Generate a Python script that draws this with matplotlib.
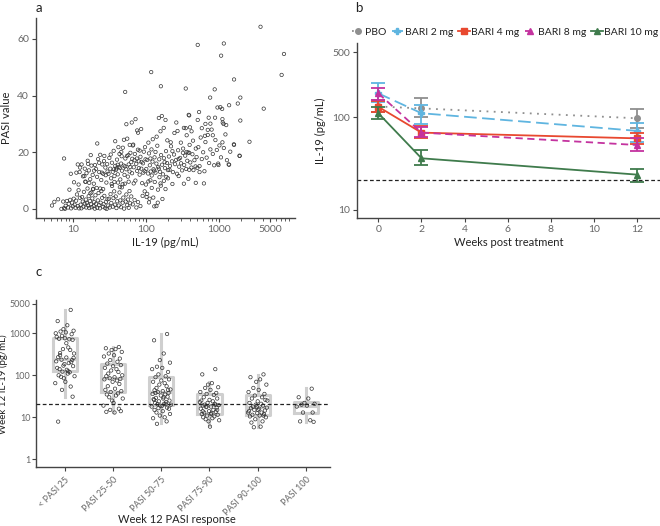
import numpy as np
import matplotlib.pyplot as plt
from matplotlib.ticker import FixedLocator, NullLocator, NullFormatter

plt.rcParams['font.family'] = ['Lato', 'DejaVu Sans']

# ---------------- panel a: IL-19 vs PASI ----------------
pts_a = [
    # low IL-19, low PASI
    (5.2, 1.2), (5.6, 2.5), (6.3, 3.4), (7.0, 0.0), (7.4, 2.6), (7.6, 0.3), (7.8, 0.0), (8.0, 1.1),
    (8.3, 2.8), (8.6, 0.5), (8.8, 1.8), (9.0, 6.8), (9.2, 3.2), (9.5, 0.2), (9.8, 2.2), (10.0, 0.9),
    (10.3, 3.6), (10.6, 1.5), (10.9, 0.4), (11.1, 2.9), (11.4, 5.1), (11.7, 1.0), (12.0, 6.6), (12.2, 0.2),
    (12.5, 3.9), (7.6, 17.8), (9.4, 12.4), (11.2, 12.8), (12.0, 8.6), (11.7, 15.7), (12.6, 14.6), (10.4, 9.4),
    (12.8, 1.5), (13.1, 0.2), (13.4, 4.2), (13.7, 2.6), (14.0, 0.8), (14.2, 6.0), (14.5, 1.9), (14.8, 9.6),
    (15.1, 3.3), (15.3, 0.5), (15.6, 2.1), (15.9, 7.2), (16.2, 1.2), (16.5, 4.5), (16.8, 0.3), (17.1, 2.8),
    (17.4, 5.5), (17.8, 1.6), (18.1, 0.6), (18.5, 3.7), (18.9, 6.9), (19.3, 1.0), (19.6, 2.4), (20.0, 0.1),
    (20.4, 4.8), (20.8, 1.8), (21.2, 7.4), (21.6, 0.4), (22.0, 3.0), (22.5, 5.6), (23.0, 1.3), (23.5, 0.2),
    (24.0, 2.2), (24.6, 6.3), (25.2, 3.9), (25.8, 0.8), (26.4, 1.7), (27.0, 4.6), (27.7, 0.3), (28.4, 2.5),
    (29.0, 0.0), (29.8, 3.4), (15.0, 9.6), (16.8, 9.2), (19.0, 7.1), (23.7, 7.2), (26.0, 7.0), (18.0, 5.8),
    # low IL-19, mid PASI
    (12.4, 13.0), (13.2, 15.7), (13.8, 11.5), (14.6, 14.2), (15.4, 12.6), (16.0, 17.0), (16.6, 13.6),
    (17.3, 10.5), (18.0, 15.3), (18.7, 12.0), (19.4, 8.9), (20.1, 15.5), (20.8, 14.1), (21.5, 11.3),
    (22.2, 17.6), (23.0, 13.0), (23.7, 19.1), (24.5, 10.2), (25.3, 15.7), (26.1, 12.4), (27.0, 18.7),
    (27.9, 14.6), (28.8, 9.3), (29.8, 13.2), (21.6, 23.1), (14.4, 11.6), (16.2, 15.9), (19.6, 13.5),
    (22.9, 16.3), (25.0, 12.8), (26.7, 16.9), (28.2, 11.9), (29.5, 15.8), (17.6, 19.0),
    # 30-100, low PASI
    (30.5, 1.2), (31.2, 3.6), (32.0, 0.5), (32.8, 5.2), (33.6, 2.1), (34.4, 8.1), (35.2, 0.8), (36.0, 3.8),
    (36.8, 6.2), (37.7, 1.5), (38.6, 4.4), (39.5, 0.3), (40.5, 2.7), (41.5, 9.3), (42.5, 1.2), (43.5, 5.8),
    (44.6, 3.0), (45.7, 0.6), (46.8, 7.6), (48.0, 2.2), (49.1, 4.0), (50.3, 0.1), (51.5, 8.9), (52.8, 2.6),
    (54.0, 5.1), (55.4, 1.3), (56.8, 3.3), (58.2, 0.4), (59.6, 6.3), (61.0, 2.0), (37.0, 9.5), (44.0, 7.7),
    (63.0, 4.4), (66.0, 1.6), (70.0, 3.1), (74.0, 0.5), (78.0, 2.4), (84.0, 1.0), (90.0, 4.6), (96.0, 6.2),
    # 30-100, mid PASI
    (30.8, 12.4), (31.6, 18.0), (32.5, 14.2), (33.4, 10.8), (34.3, 16.3), (35.2, 13.1), (36.2, 20.5),
    (37.1, 11.6), (38.1, 15.2), (39.1, 13.8), (40.2, 17.4), (41.2, 12.2), (42.3, 14.8), (43.5, 19.4),
    (44.6, 10.4), (45.8, 16.0), (47.0, 13.5), (48.3, 21.6), (49.6, 15.3), (50.9, 12.0), (52.3, 17.8),
    (53.7, 14.0), (55.1, 18.7), (56.6, 11.4), (58.1, 15.7), (59.7, 13.2), (61.3, 19.8), (62.9, 16.5),
    (64.6, 12.6), (66.3, 22.4), (68.1, 14.7), (69.9, 17.2), (71.8, 10.0), (73.7, 15.9), (75.7, 13.4),
    (77.7, 20.9), (79.8, 16.8), (81.9, 12.1), (84.1, 18.4), (86.4, 14.2), (88.7, 9.1), (91.1, 16.1),
    (93.5, 20.2), (96.0, 13.3), (98.6, 17.5), (36.5, 14.0), (39.5, 14.3), (41.0, 15.6), (44.0, 14.5),
    (46.5, 18.6), (52.0, 15.0), (57.5, 19.0), (61.0, 14.8), (65.0, 17.7), (70.5, 19.4), (75.0, 17.8),
    (80.0, 14.4), (87.0, 16.6), (92.0, 12.8), (38.0, 23.9), (42.0, 21.8), (50.0, 24.4), (55.5, 24.8),
    (60.0, 22.6), (67.0, 22.7), (75.8, 27.7), (78.0, 26.9), (64.0, 30.5), (54.0, 29.9), (72.0, 31.7),
    (86.0, 28.2), (46.0, 20.1), (82.0, 20.6), (33.0, 19.2), (97.0, 21.8), (34.0, 8.8), (48.0, 8.7),
    (58.0, 9.6), (68.0, 9.0), (52.0, 41.3),
    # 100-500, low PASI
    (100, 8.6), (104, 5.3), (110, 2.3), (115, 10.1), (120, 7.4), (126, 4.0), (132, 9.5), (139, 1.0),
    (146, 6.8), (153, 11.2), (160, 8.2), (168, 3.5), (176, 9.9), (185, 7.0), (145, 2.2), (200, 10.8),
    (112, 3.6), (130, 0.9), (108, 9.7), (158, 9.0), (230, 8.8), (280, 11.6), (330, 8.9), (380, 10.6),
    (120, 11.8), (190, 11.3), (102, 4.2),
    # 100-500, mid PASI
    (101, 14.1), (104, 17.3), (107, 12.5), (110, 19.6), (113, 15.4), (116, 13.2), (119, 21.0), (123, 16.7),
    (127, 14.0), (131, 18.2), (135, 12.8), (139, 16.0), (143, 22.3), (147, 14.8), (152, 17.5), (156, 13.1),
    (161, 19.0), (166, 15.6), (171, 12.2), (176, 17.9), (182, 14.4), (188, 20.4), (194, 16.2), (200, 13.7),
    (206, 18.5), (213, 15.2), (220, 22.1), (227, 16.8), (234, 13.0), (242, 19.2), (250, 15.8), (258, 17.3),
    (266, 12.4), (275, 20.7), (284, 14.9), (293, 18.0), (302, 16.1), (312, 13.6), (322, 21.3), (333, 15.5),
    (344, 18.8), (355, 14.1), (367, 17.0), (379, 19.9), (391, 13.8), (404, 16.4), (418, 14.6), (432, 19.3),
    (446, 13.7), (460, 17.2), (476, 15.0), (492, 18.3), (108, 23.4), (124, 24.6), (140, 25.5), (158, 27.4),
    (175, 28.6), (196, 24.2), (218, 23.5), (245, 26.8), (270, 27.5), (300, 23.4), (330, 28.6), (360, 26.0),
    (395, 22.6), (440, 24.1), (480, 21.3), (150, 32.1), (165, 32.8), (185, 31.4), (260, 30.5), (350, 28.5),
    (400, 28.8), (390, 33.0), (420, 27.4), (320, 19.8), (280, 17.6), (230, 20.4), (210, 13.8), (180, 16.5),
    (150, 14.2), (130, 13.5), (115, 17.8), (135, 20.1), (390, 19.8), (360, 20.1), (118, 48.3), (160, 43.3),
    (350, 42.5),
    # 500+
    (505, 14.5), (520, 21.8), (540, 15.1), (560, 25.2), (580, 17.6), (605, 20.0), (630, 13.3), (650, 23.6),
    (675, 18.1), (700, 26.1), (730, 16.2), (760, 21.0), (790, 28.0), (820, 19.4), (855, 15.4), (890, 24.3),
    (930, 20.8), (970, 16.0), (1010, 22.4), (1060, 18.2), (1110, 23.5), (1160, 21.5), (1220, 26.3),
    (1280, 17.2), (1350, 15.7), (1420, 20.2), (1600, 22.6), (1900, 18.8), (1250, 29.6), (700, 27.9),
    (760, 30.1), (820, 26.0), (880, 32.2), (580, 28.5), (640, 25.8), (540, 13.0), (620, 9.0), (480, 9.2),
    (650, 30.0), (720, 32.2), (980, 15.5), (2600, 23.7), (1150, 30.0), (950, 35.8), (510, 31.4),
    (3680, 64.3), (510, 57.9), (1160, 58.4), (1065, 54.1), (7700, 54.7), (7150, 47.3), (1600, 45.7),
    (4070, 35.4), (870, 42.2), (754, 39.3), (1950, 39.3), (1800, 37.2), (1370, 36.6), (1040, 35.9),
    (1100, 35.3), (532, 34.2), (384, 33.2), (1590, 22.8), (1910, 18.7), (1370, 15.6), (1950, 31.2),
    (1120, 30.5), (1110, 31.7),
]
il19_a = [p[0] for p in pts_a]
pasi_a = [p[1] for p in pts_a]

# ---------------- panel b: IL-19 over time ----------------
weeks = [0, 2, 12]
groups_b = ['PBO', 'BARI 2 mg', 'BARI 4 mg', 'BARI 8 mg', 'BARI 10 mg']
mean_b = {
    'PBO':        [130, 124, 97],
    'BARI 2 mg':  [180, 110, 71],
    'BARI 4 mg':  [129, 68, 59],
    'BARI 8 mg':  [180, 68, 50],
    'BARI 10 mg': [110, 36, 24],
}
low_b = {
    'PBO':        [112, 100, 77],
    'BARI 2 mg':  [146, 85, 54],
    'BARI 4 mg':  [112, 60, 51],
    'BARI 8 mg':  [152, 61, 43],
    'BARI 10 mg': [95, 30.5, 20],
}
high_b = {
    'PBO':        [152, 160, 122],
    'BARI 2 mg':  [230, 135, 87],
    'BARI 4 mg':  [150, 80, 68],
    'BARI 8 mg':  [208, 79, 59],
    'BARI 10 mg': [129, 44, 27.5],
}
colors_b = {'PBO': '#8f8f8f', 'BARI 2 mg': '#5fb5e0', 'BARI 4 mg': '#e8482f',
            'BARI 8 mg': '#c4339f', 'BARI 10 mg': '#3f7b4c'}
styles_b = {'PBO': (0, (1, 3)), 'BARI 2 mg': (0, (7, 3)), 'BARI 4 mg': '-',
            'BARI 8 mg': (0, (4, 2.5)), 'BARI 10 mg': '-'}
markers_b = {'PBO': 'o', 'BARI 2 mg': 'P', 'BARI 4 mg': 's', 'BARI 8 mg': '^', 'BARI 10 mg': '^'}
ref_level = 21

# ---------------- panel c: week 12 IL-19 by PASI response ----------------
cats_c = ['< PASI 25', 'PASI 25-50', 'PASI 50-75', 'PASI 75-90', 'PASI 90-100', 'PASI 100']
vals_c = [
    [3600, 1950, 1550, 1250, 1150, 1100, 1050, 1000, 950, 870, 720, 740, 700, 760, 820, 460, 420, 400,
     340, 330, 270, 265, 235, 230, 215, 195, 185, 205, 140, 135, 150, 165, 122, 118, 100, 110, 92, 95,
     85, 70, 65, 54, 45, 31, 7.9, 580, 300, 260, 170, 125],
    [470, 440, 420, 400, 360, 330, 300, 280, 250, 230, 210, 190, 175, 165, 150, 140, 130, 120, 110, 100,
     95, 90, 85, 82, 80, 75, 70, 62, 55, 48, 45, 42, 40, 37, 35, 33, 30, 28, 25, 22, 19, 16, 15, 14,
     13.5, 13],
    [960, 680, 330, 230, 200, 160, 150, 140, 120, 105, 95, 90, 80, 75, 70, 65, 60, 55, 50, 46, 44, 42,
     40, 38, 36, 35, 33, 31, 29, 28, 27, 25, 24, 23, 22, 21, 20.5, 20, 19, 18.5, 18, 17, 16.5, 16, 15,
     14, 13, 12, 11, 10, 9.5, 8, 7, 45, 38, 30, 26, 21],
    [140, 105, 65, 60, 52, 50, 45, 40, 38, 36, 34, 30, 28, 26, 25, 24, 22, 21, 20, 19.5, 19, 18, 17.5,
     17, 16, 15, 14, 13.5, 13, 12.5, 12, 11.5, 11, 10.5, 10, 9.5, 9, 8.5, 8, 6, 23, 20, 18, 15, 14, 12],
    [105, 90, 80, 70, 60, 50, 45, 40, 36, 33, 30, 28, 26, 24, 22, 21, 20, 19, 18, 17, 16.5, 16, 15,
     14.5, 14, 13, 12.5, 12, 11.5, 11, 10.5, 10, 9, 8, 7.5, 6, 5.8, 25, 18, 15, 13, 11],
    [48, 30, 28, 22, 21, 20, 19, 18, 13, 13, 8.5, 8, 7.8],
]
jitter_c = [0.12, -0.15, 0.05, -0.03, 0.18, -0.09, 0.02, -0.19, 0.14, -0.06, 0.09, -0.12, 0.16, 0.0,
            -0.17, 0.07, -0.04, 0.11, -0.1, 0.19, -0.14, 0.03, -0.07, 0.15, -0.18, 0.08, -0.01, 0.13,
            -0.11, 0.04, -0.16, 0.17, -0.05, 0.1, -0.13, 0.06, -0.08, 0.2, -0.02, 0.01, -0.2, 0.12,
            -0.06, 0.16, -0.14, 0.03, -0.1, 0.18, -0.03, 0.07, -0.17, 0.11, -0.09, 0.14, -0.12, 0.05,
            -0.15, 0.09, 0.0, -0.04]
q1_c = [126, 39, 19.6, 12, 11.3, 12.9]
med_c = [240, 88, 40, 19.6, 17.9, 18.6]
q3_c = [785, 182, 93, 36, 34, 23.5]
whislo_c = [30, 13.6, 7.2, 6.5, 6, 7.9]
whishi_c = [3600, 464, 960, 70, 100, 49]

axis_col = '#444444'
tick_col = '#666666'
label_col = '#222222'


def style_axis(ax, size=7.5):
    for s in ['top', 'right']:
        ax.spines[s].set_visible(False)
    for s in ['left', 'bottom']:
        ax.spines[s].set_color(axis_col)
        ax.spines[s].set_linewidth(1.0)
    ax.tick_params(colors=axis_col, labelcolor=tick_col, labelsize=size, length=3, width=0.8, pad=2)
    ax.tick_params(which='minor', colors=axis_col, length=2, width=0.6)


fig = plt.figure(figsize=(6.6, 5.26), dpi=100)

# panel a
ax1 = fig.add_axes([0.0545, 0.5856, 0.3925, 0.3802])
ax1.scatter(il19_a, pasi_a, s=6, facecolors='none', edgecolors='#333333', linewidths=0.5)
ax1.set_xscale('log')
ax1.set_xlim(3.14, 10900)
ax1.set_ylim(-3.2, 67.4)
ax1.xaxis.set_major_locator(FixedLocator([10, 100, 1000, 5000]))
ax1.xaxis.set_major_formatter(plt.FixedFormatter(['10', '100', '1000', '5000']))
minor_a = [m * 10 ** k for k in range(0, 4) for m in range(2, 10) if m * 10 ** k != 5000]
ax1.xaxis.set_minor_locator(FixedLocator(minor_a))
ax1.xaxis.set_minor_formatter(NullFormatter())
ax1.set_yticks([0, 20, 40, 60])
style_axis(ax1)
ax1.set_xlabel('IL-19 (pg/mL)', fontsize=8, color=label_col, labelpad=2)
ax1.set_ylabel('PASI value', fontsize=8, color=label_col, labelpad=4)

# panel b
ax2 = fig.add_axes([0.5405, 0.5856, 0.4595, 0.3324])
handles = []
for g in groups_b:
    m = np.array(mean_b[g])
    yerr = [m - np.array(low_b[g]), np.array(high_b[g]) - m]
    ax2.errorbar(weeks, m, yerr=yerr, fmt='none', ecolor=colors_b[g], elinewidth=1.3,
                 capsize=5, capthick=1.3)
    h, = ax2.plot(weeks, m, color=colors_b[g], linestyle=styles_b[g], linewidth=1.3,
                  marker=markers_b[g], markersize=4, label=g)
    handles.append(h)
ax2.axhline(ref_level, color=label_col, linestyle=(0, (3, 2)), linewidth=0.9)
ax2.set_yscale('log')
ax2.set_xlim(-1.0, 13.05)
ax2.set_ylim(8.2, 625)
ax2.set_xticks([0, 2, 4, 6, 8, 10, 12])
ax2.yaxis.set_major_locator(FixedLocator([10, 100, 500]))
ax2.yaxis.set_major_formatter(plt.FixedFormatter(['10', '100', '500']))
ax2.yaxis.set_minor_locator(NullLocator())
style_axis(ax2)
ax2.set_xlabel('Weeks post treatment', fontsize=8, color=label_col, labelpad=2)
ax2.set_ylabel('IL-19 (pg/mL)', fontsize=8, color=label_col, labelpad=4)
leg = ax2.legend(handles=handles, loc='lower center', bbox_to_anchor=(0.49, 1.035), ncol=5,
                 frameon=False, fontsize=7.5, handlelength=1.1, handletextpad=0.15,
                 columnspacing=0.5, borderaxespad=0, borderpad=0)
for t in leg.get_texts():
    t.set_color(label_col)

# panel c
ax3 = fig.add_axes([0.0545, 0.1127, 0.4455, 0.317])
stats = []
for i in range(len(cats_c)):
    stats.append({'med': med_c[i], 'q1': q1_c[i], 'q3': q3_c[i],
                  'whislo': whislo_c[i], 'whishi': whishi_c[i], 'fliers': []})
box_col = '#cfcfcf'
ax3.bxp(stats, positions=range(len(cats_c)), widths=0.5, showcaps=False, showfliers=False,
        boxprops=dict(color=box_col, linewidth=2.2),
        whiskerprops=dict(color=box_col, linewidth=2.2),
        medianprops=dict(color=box_col, linewidth=2.2))
for i, vals in enumerate(vals_c):
    xs = [i + jitter_c[j % len(jitter_c)] for j in range(len(vals))]
    ax3.scatter(xs, vals, s=6, facecolors='none', edgecolors='#333333', linewidths=0.5, zorder=3)
ax3.axhline(ref_level, color=label_col, linestyle=(0, (3, 2)), linewidth=0.9, zorder=4)
ax3.set_yscale('log')
ax3.set_ylim(0.667, 6200)
ax3.set_xlim(-0.6, 5.5)
ax3.yaxis.set_major_locator(FixedLocator([1, 10, 100, 1000, 5000]))
ax3.yaxis.set_major_formatter(plt.FixedFormatter(['1', '10', '100', '1000', '5000']))
ax3.yaxis.set_minor_locator(NullLocator())
ax3.set_xticks(range(len(cats_c)))
ax3.set_xticklabels(cats_c, rotation=45, ha='right', rotation_mode='anchor')
style_axis(ax3, size=6.5)
ax3.tick_params(axis='y', pad=1)
ax3.tick_params(axis='x', labelsize=6.5, pad=3)

fig.text(0.268, 0.002, 'Week 12 PASI response', fontsize=8, color=label_col,
         ha='center', va='bottom')
fig.text(-0.002, 0.27, 'Week 12 IL-19 (pg/mL)', fontsize=7, color=label_col,
         ha='left', va='center', rotation=90)

fig.text(0.059, 0.985, 'a', fontsize=9.5, va='center', ha='center', color=label_col)
fig.text(0.543, 0.985, 'b', fontsize=9.5, va='center', ha='center', color=label_col)
fig.text(0.059, 0.482, 'c', fontsize=9.5, va='center', ha='center', color=label_col)

fig.savefig('out.png', dpi=100)
